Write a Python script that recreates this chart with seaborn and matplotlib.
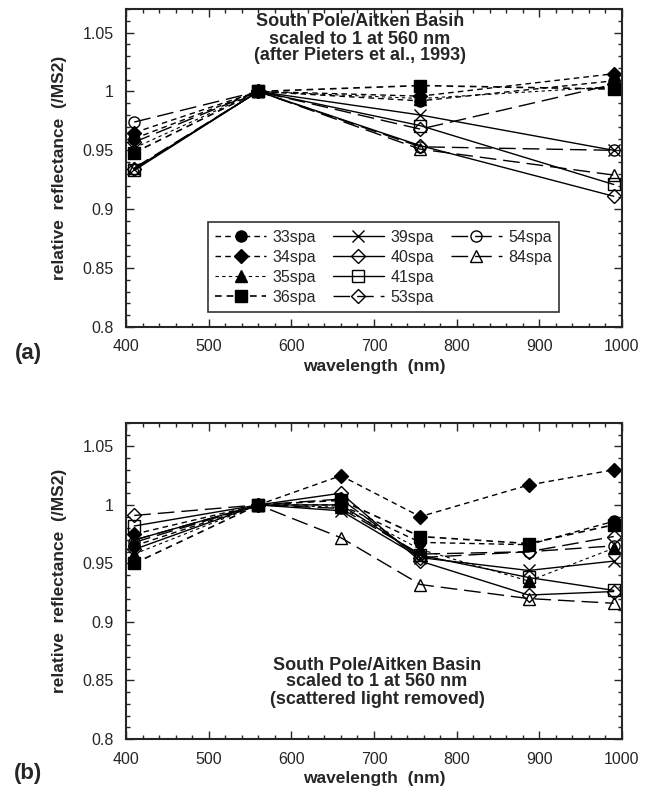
import matplotlib
matplotlib.use('Agg')
import matplotlib.pyplot as plt
from matplotlib.lines import Line2D
from matplotlib.ticker import MultipleLocator, FuncFormatter
import seaborn as sns

# wavelengths (nm)
wl_a = [410, 560, 756, 990]
wl_b = [410, 560, 660, 756, 887, 990]

samples = ['33spa', '34spa', '35spa', '36spa', '39spa',
           '40spa', '41spa', '53spa', '54spa', '84spa']

# panel (a): after Pieters et al., 1993
refl_a = {
    '33spa': [0.960, 1.0, 0.992, 1.009],
    '34spa': [0.965, 1.0, 0.996, 1.015],
    '35spa': [0.952, 1.0, 0.994, 1.004],
    '36spa': [0.948, 1.0, 1.005, 1.002],
    '39spa': [0.934, 1.0, 0.980, 0.950],
    '40spa': [0.934, 1.0, 0.954, 0.911],
    '41spa': [0.933, 1.0, 0.971, 0.921],
    '53spa': [0.957, 1.0, 0.968, 1.006],
    '54spa': [0.974, 1.0, 0.953, 0.950],
    '84spa': [0.935, 1.0, 0.951, 0.929],
}

# panel (b): scattered light removed
refl_b = {
    '33spa': [0.965, 1.0, 1.000, 0.968, 0.966, 0.986],
    '34spa': [0.975, 1.0, 1.025, 0.990, 1.017, 1.030],
    '35spa': [0.958, 1.0, 0.998, 0.962, 0.935, 0.963],
    '36spa': [0.950, 1.0, 1.004, 0.973, 0.967, 0.983],
    '39spa': [0.970, 1.0, 0.995, 0.955, 0.944, 0.952],
    '40spa': [0.962, 1.0, 1.010, 0.952, 0.923, 0.926],
    '41spa': [0.982, 1.0, 1.000, 0.957, 0.938, 0.927],
    '53spa': [0.991, 1.0, 1.005, 0.955, 0.960, 0.973],
    '54spa': [0.968, 1.0, 0.997, 0.958, 0.960, 0.965],
    '84spa': [0.970, 1.0, 0.972, 0.932, 0.920, 0.916],
}

short = (0, (4, 3))
thin = (0, (3, 3))
longd = (0, (12, 5))
# marker, filled, linestyle, linewidth
styles = {
    '33spa': ('o', True, short, 1.0),
    '34spa': ('D', True, short, 1.0),
    '35spa': ('^', True, thin, 0.8),
    '36spa': ('s', True, short, 1.2),
    '39spa': ('x', False, '-', 1.0),
    '40spa': ('D', False, '-', 1.0),
    '41spa': ('s', False, '-', 1.0),
    '53spa': ('D', False, longd, 1.0),
    '54spa': ('o', False, longd, 1.0),
    '84spa': ('^', False, longd, 1.0),
}

sns.set_style('ticks')
plt.rcParams['font.family'] = ['Liberation Sans', 'DejaVu Sans']
plt.rcParams['font.size'] = 10

fig = plt.figure(figsize=(6.46, 7.96), dpi=100)
ax_a = fig.add_axes([0.195, 0.5892, 0.7678, 0.3995])
ax_b = fig.add_axes([0.195, 0.0716, 0.7678, 0.397])


def draw(ax, wl, refl):
    for name in samples:
        mk, filled, ls, lw = styles[name]
        ms = 8 if mk != 'D' else 7
        sns.lineplot(x=wl, y=refl[name], ax=ax, color='k', label=name,
                     marker=mk, markersize=ms, linestyle=ls, linewidth=lw,
                     markerfacecolor='k' if filled else 'none',
                     markeredgecolor='k', markeredgewidth=1.0)
    ax.set_xlim(400, 1000)
    ax.set_ylim(0.8, 1.07)
    ax.xaxis.set_major_locator(MultipleLocator(100))
    ax.xaxis.set_minor_locator(MultipleLocator(20))
    ax.yaxis.set_major_locator(MultipleLocator(0.05))
    ax.yaxis.set_minor_locator(MultipleLocator(0.01))
    ax.yaxis.set_major_formatter(FuncFormatter(lambda v, p: f'{v:g}'))
    ax.tick_params(which='both', direction='in', top=True, right=True,
                   labelsize=11.5, pad=9, width=1)
    ax.tick_params(which='major', length=6)
    ax.tick_params(which='minor', length=3)
    for sp in ax.spines.values():
        sp.set_linewidth(1.5)
        sp.set_visible(True)
    ax.set_xlabel('wavelength  (nm)', fontsize=12.5, fontweight='bold', labelpad=3)
    ax.set_ylabel('relative  reflectance  (/MS2)', fontsize=12.5,
                  fontweight='bold', labelpad=11)


draw(ax_a, wl_a, refl_a)
draw(ax_b, wl_b, refl_b)

# pad third legend column with two blank entries so columns read 4/4/2
handles, labels = ax_a.get_legend_handles_labels()
blank = Line2D([], [], alpha=0)
handles += [blank, blank]
labels += ['', '']
leg = ax_a.legend(handles, labels, ncol=3, loc='lower left', mode='expand',
                  bbox_to_anchor=(0.165, 0.047, 0.708, 0.264),
                  borderaxespad=0, frameon=True, fancybox=False, edgecolor='k',
                  handlelength=3.2, handletextpad=0.4, labelspacing=0.32,
                  borderpad=0.45, fontsize=11.5)
leg.get_frame().set_linewidth(1.2)
ax_b.get_legend().remove()

title_kw = dict(ha='center', va='center', fontsize=13, fontweight='bold')
fig.text(360 / 646, 1 - 22 / 796, 'South Pole/Aitken Basin', **title_kw)
fig.text(360 / 646, 1 - 39 / 796, 'scaled to 1 at 560 nm', **title_kw)
fig.text(360 / 646, 1 - 56 / 796, '(after Pieters et al., 1993)', **title_kw)

fig.text(377 / 646, 1 - 665 / 796, 'South Pole/Aitken Basin', **title_kw)
fig.text(377 / 646, 1 - 682 / 796, 'scaled to 1 at 560 nm', **title_kw)
fig.text(377 / 646, 1 - 699 / 796, '(scattered light removed)', **title_kw)

fig.text(28 / 646, 1 - 354 / 796, '(a)', ha='center', va='center',
         fontsize=16, fontweight='bold')
fig.text(28 / 646, 1 - 773 / 796, '(b)', ha='center', va='center',
         fontsize=16, fontweight='bold')

fig.savefig('out.png', dpi=100)
